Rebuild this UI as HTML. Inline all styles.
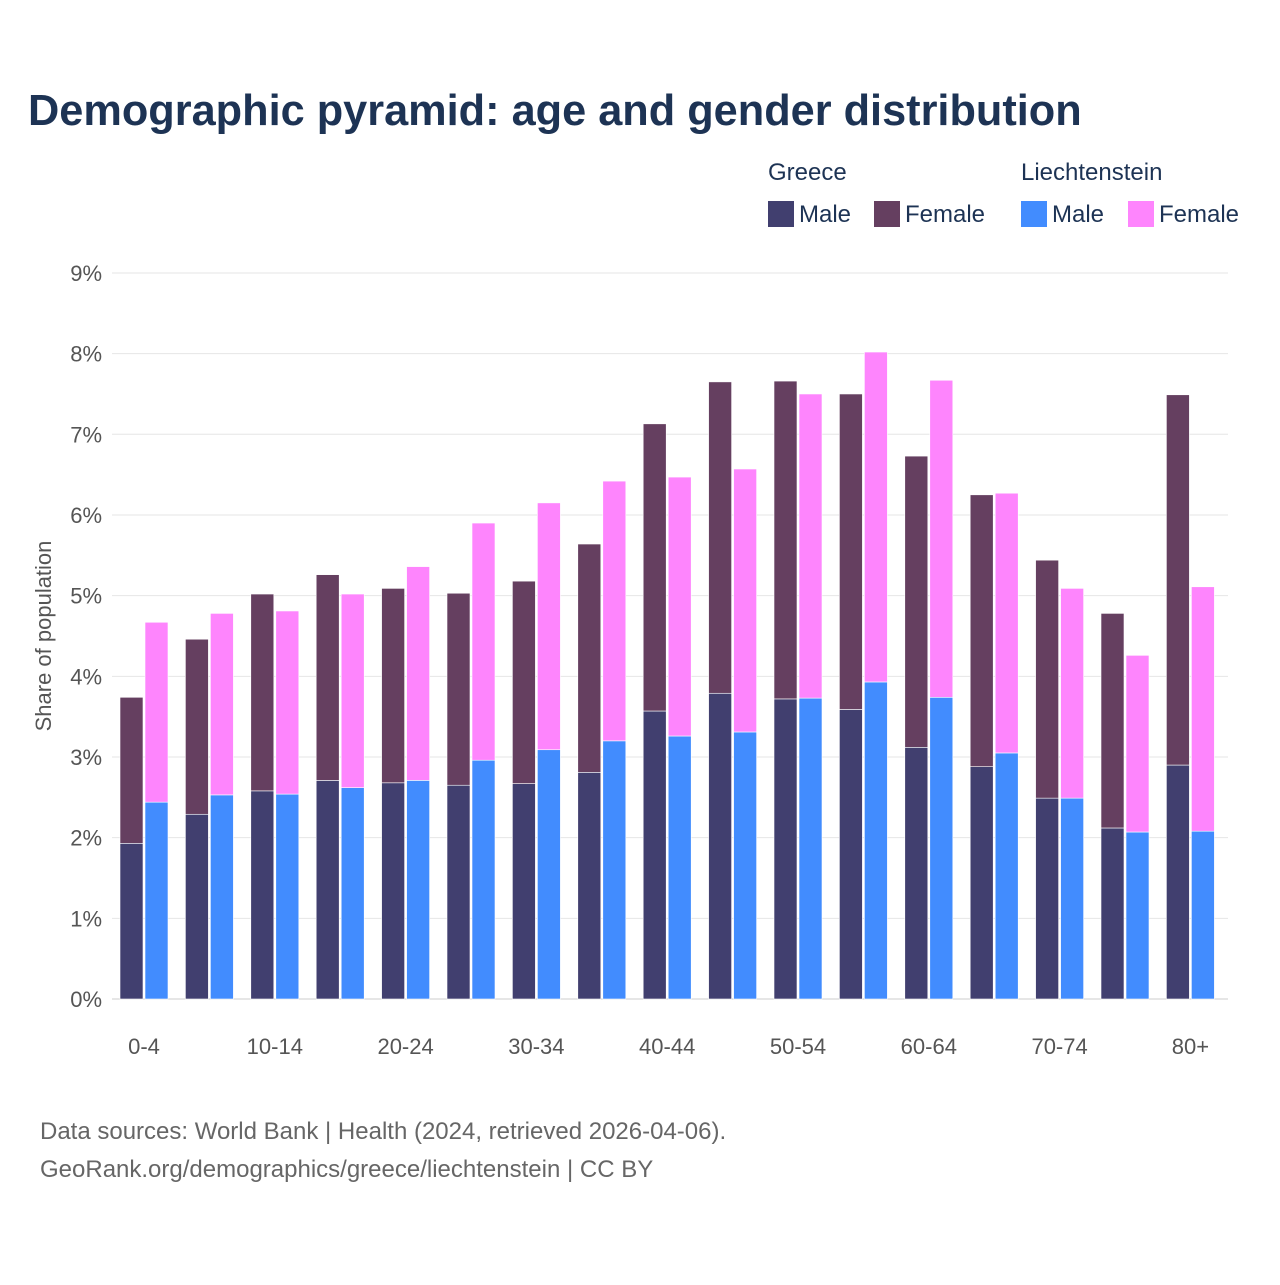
<!DOCTYPE html>
<html><head><meta charset="utf-8"><style>
body{margin:0;background:#fff;font-family:"Liberation Sans",sans-serif;}
</style></head><body>
<svg width="1280" height="1280" xmlns="http://www.w3.org/2000/svg" id="chart">
<text x="28" y="125" font-size="43.3" font-weight="bold" fill="#1d3354">Demographic pyramid: age and gender distribution</text>
<g font-size="24" fill="#1d3354">
<text x="768" y="180">Greece</text>
<text x="1021" y="180">Liechtenstein</text>
<rect x="768" y="201" width="26" height="26" fill="#413f6f"/>
<text x="799" y="222">Male</text>
<rect x="874" y="201" width="26" height="26" fill="#653f60"/>
<text x="905" y="222">Female</text>
<rect x="1021" y="201" width="26" height="26" fill="#428cfe"/>
<text x="1052" y="222">Male</text>
<rect x="1128" y="201" width="26" height="26" fill="#fe85fd"/>
<text x="1159" y="222">Female</text>
</g>
<text transform="translate(51,636) rotate(-90)" text-anchor="middle" font-size="22" fill="#555">Share of population</text>
<g id="grid"></g><g id="bars"></g><g id="xlabels"></g>
<text x="40" y="1139" font-size="24" fill="#666">Data sources: World Bank | Health (2024, retrieved 2026-04-06).</text>
<text x="40" y="1177" font-size="24" fill="#666">GeoRank.org/demographics/greece/liechtenstein | CC BY</text>
</svg>
<script>
const categories=["0-4","5-9","10-14","15-19","20-24","25-29","30-34","35-39","40-44","45-49","50-54","55-59","60-64","65-69","70-74","75-79","80+"];
const greeceMale=[1.93,2.29,2.58,2.71,2.68,2.65,2.67,2.81,3.57,3.79,3.72,3.59,3.12,2.88,2.49,2.12,2.90];
const greeceFemale=[1.81,2.17,2.44,2.55,2.41,2.38,2.51,2.83,3.56,3.86,3.94,3.91,3.61,3.37,2.95,2.66,4.59];
const liechMale=[2.44,2.53,2.54,2.62,2.71,2.96,3.09,3.20,3.26,3.31,3.73,3.93,3.74,3.05,2.49,2.07,2.08];
const liechFemale=[2.23,2.25,2.27,2.40,2.65,2.94,3.06,3.22,3.21,3.26,3.77,4.09,3.93,3.22,2.60,2.19,3.03];
const yTicks=[0,1,2,3,4,5,6,7,8,9];
const tickLabels=["0-4","10-14","20-24","30-34","40-44","50-54","60-64","70-74","80+"];
const NS="http://www.w3.org/2000/svg";
const y=v=>999-v*80.67;
const xc=i=>144+i*65.4;
const grid=document.getElementById('grid'),bars=document.getElementById('bars'),xl=document.getElementById('xlabels');
yTicks.forEach(t=>{
 const l=document.createElementNS(NS,'line');
 l.setAttribute('x1',112);l.setAttribute('x2',1228);l.setAttribute('y1',y(t));l.setAttribute('y2',y(t));
 l.setAttribute('stroke',t===0?'#ccc':'#e6e6e6');l.setAttribute('stroke-width',1);
 
 
 grid.appendChild(l);
 const tx=document.createElementNS(NS,'text');
 tx.setAttribute('x',102);tx.setAttribute('y',y(t)+8);tx.setAttribute('text-anchor','end');
 tx.setAttribute('font-size',22);tx.setAttribute('fill','#555');tx.textContent=t+'%';
 
 
 grid.appendChild(tx);
});
function rect(x,v0,v1,fill,name){
 const r=document.createElementNS(NS,'rect');
 r.setAttribute('x',x);r.setAttribute('width',23);
 r.setAttribute('y',y(v1));r.setAttribute('height',y(v0)-y(v1));
 r.setAttribute('fill',fill);r.setAttribute('stroke','#fff');r.setAttribute('stroke-width',0.6);
 
 
 bars.appendChild(r);
}
categories.forEach((c,i)=>{
 const cx=xc(i);
 rect(cx-24,0,greeceMale[i],'#413f6f','bar-greece-male-'+c);
 rect(cx-24,greeceMale[i],greeceMale[i]+greeceFemale[i],'#653f60','bar-greece-female-'+c);
 rect(cx+1,0,liechMale[i],'#428cfe','bar-liechtenstein-male-'+c);
 rect(cx+1,liechMale[i],liechMale[i]+liechFemale[i],'#fe85fd','bar-liechtenstein-female-'+c);
 if(tickLabels.includes(c)){
  const tx=document.createElementNS(NS,'text');
  tx.setAttribute('x',cx);tx.setAttribute('y',1054);tx.setAttribute('text-anchor','middle');
  tx.setAttribute('font-size',22);tx.setAttribute('fill','#555');tx.textContent=c;
  
  
  xl.appendChild(tx);
 }
});
</script>
</body></html>
